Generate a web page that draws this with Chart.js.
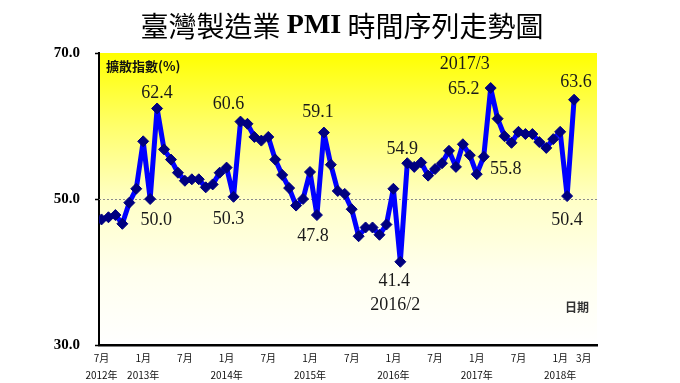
<!DOCTYPE html>
<html>
<head>
<meta charset="utf-8">
<script src="https://cdn.jsdelivr.net/npm/chart.js@4"></script>
<style>
  html, body { margin: 0; padding: 0; background: #fff; }
</style>
</head>
<body>
<canvas id="pmi" width="680" height="383"></canvas>
<script>
// 2012/7 .. 2018/3, monthly
const pmi = [
  47.2, 47.5, 47.8, 46.6, 49.5, 51.4,
  57.9, 50.0, 62.4, 56.8, 55.4, 53.6, 52.5, 52.7, 52.7, 51.6, 52.0, 53.6,
  54.3, 50.3, 60.6, 60.3, 58.5, 58.0, 58.5, 55.4, 53.3, 51.5, 49.1, 50.0,
  53.7, 47.8, 59.1, 54.7, 51.1, 50.7, 48.6, 44.9, 46.1, 46.1, 45.1, 46.5,
  51.4, 41.4, 54.9, 54.4, 55.0, 53.2, 54.1, 54.9, 56.6, 54.4, 57.5, 56.0,
  53.4, 55.8, 65.2, 61.0, 58.6, 57.7, 59.2, 58.9, 58.9, 57.8, 57.0, 58.2,
  59.2, 50.4, 63.6
];
const tickPos   = [0, 6, 12, 18, 24, 30, 36, 42, 48, 54, 60, 66, 69.4];
const tickMonth = ["7月", "1月", "7月", "1月", "7月", "1月", "7月", "1月", "7月", "1月", "7月", "1月", "3月"];
const tickYear  = ["2012年", "2013年", "", "2014年", "", "2015年", "", "2016年", "", "2017年", "", "2018年", ""];
const yTicks = [30, 50, 70];

const noteIdx  = [8, 7, 20, 19, 32, 31, 44, 43, 43, 56, 56, 55, 68, 67];
const noteText = ["62.4", "50.0", "60.6", "50.3", "59.1", "47.8", "54.9", "41.4", "2016/2", "2017/3", "65.2", "55.8", "63.6", "50.4"];
// label offsets from the point, px
const noteOff = [[0,-15],[6,21],[-12,-17],[-5,22],[-6,-20],[-4,21],[-5,-14],[-6,19],[-5,43],[-26,-24],[-27,1],[22,13],[2,-17],[0,24]];

const points = pmi.map((v, i) => ({ x: i, y: v }));

const decor = {
  id: "decor",
  beforeDraw(chart) {
    const { ctx, chartArea: a } = chart;
    const g = ctx.createLinearGradient(0, a.top, 0, a.bottom);
    g.addColorStop(0, "#ffff00");
    g.addColorStop(0.25, "#ffff6a");
    g.addColorStop(0.5, "#ffffc6");
    g.addColorStop(0.75, "#ffffee");
    g.addColorStop(1, "#ffffff");
    ctx.save();
    ctx.fillStyle = g;
    ctx.fillRect(a.left, a.top, a.right - a.left, a.bottom - a.top);
    ctx.restore();
  },
  beforeDatasetsDraw(chart) {
    const { ctx, chartArea: a, scales: { y } } = chart;
    const py = Math.round(y.getPixelForValue(50)) + 0.5;
    ctx.save();
    ctx.strokeStyle = "#8a8a8a";
    ctx.lineWidth = 1;
    ctx.setLineDash([2, 2]);
    ctx.beginPath();
    ctx.moveTo(a.left, py);
    ctx.lineTo(a.right, py);
    ctx.stroke();
    ctx.restore();
  },
  afterDatasetsDraw(chart) {
    const { ctx, scales: { x, y } } = chart;
    ctx.save();
    ctx.fillStyle = "#1a1a1a";
    ctx.font = "18px 'Liberation Serif', 'Times New Roman', serif";
    ctx.textAlign = "center";
    ctx.textBaseline = "middle";
    noteIdx.forEach((i, k) => {
      const px = x.getPixelForValue(i) + noteOff[k][0];
      const py = y.getPixelForValue(pmi[i]) + noteOff[k][1];
      ctx.fillText(noteText[k], px, py);
    });
    ctx.textAlign = "left";
    ctx.font = "bold 13px 'Noto Sans CJK TC', sans-serif";
    ctx.fillStyle = "#111";
    ctx.fillText("擴散指數(%)", 106, 66);
    ctx.fillStyle = "#333";
    ctx.font = "bold 12px 'Noto Sans CJK TC', sans-serif";
    ctx.fillText("日期", 565, 307);
    ctx.restore();
  },
  afterDraw(chart) {
    const { ctx } = chart;
    const parts = [
      ["臺灣製造業 ", "28px 'Noto Sans CJK TC', sans-serif"],
      ["PMI", "bold 28px 'Liberation Serif', serif"],
      [" 時間序列走勢圖", "28px 'Noto Sans CJK TC', sans-serif"]
    ];
    ctx.save();
    ctx.fillStyle = "#000";
    ctx.textBaseline = "middle";
    let total = 0;
    parts.forEach(p => { ctx.font = p[1]; total += ctx.measureText(p[0]).width; });
    let cx = 342 - total / 2;
    parts.forEach(p => {
      ctx.font = p[1];
      ctx.fillText(p[0], cx, 26);
      cx += ctx.measureText(p[0]).width;
    });
    ctx.restore();
  }
};

new Chart(document.getElementById("pmi"), {
  type: "line",
  data: {
    datasets: [{
      data: points,
      borderColor: "#0000ff",
      borderWidth: 5,
      borderJoinStyle: "round",
      borderCapStyle: "round",
      pointStyle: "rectRot",
      pointRadius: 5.5,
      pointBackgroundColor: "#000080",
      pointBorderColor: "#000080",
      pointBorderWidth: 1,
      tension: 0
    }]
  },
  options: {
    responsive: false,
    animation: false,
    layout: { padding: { top: 53, right: 83, left: 0, bottom: 0 } },
    plugins: { legend: { display: false }, tooltip: { enabled: false } },
    scales: {
      x: {
        type: "linear",
        min: -0.36,
        max: 71.3,
        afterFit: s => { s.height = 38; },
        afterBuildTicks: s => { s.ticks = tickPos.map(v => ({ value: v })); },
        grid: { display: false, drawTicks: false },
        border: { display: true, color: "#000", width: 2.5 },
        ticks: {
          autoSkip: false,
          maxRotation: 0,
          padding: 5,
          color: "#111",
          font: { family: "'Noto Sans CJK TC', sans-serif", size: 10, lineHeight: 1.7 },
          callback: v => {
            const k = tickPos.indexOf(v);
            if (k < 0) return "";
            return tickYear[k] ? [tickMonth[k], tickYear[k]] : tickMonth[k];
          }
        }
      },
      y: {
        min: 30,
        max: 70,
        afterFit: s => { s.width = 99; },
        afterBuildTicks: s => { s.ticks = yTicks.map(v => ({ value: v })); },
        grid: { drawOnChartArea: false, drawTicks: true, tickLength: 4, tickColor: "#000", tickWidth: 1.5 },
        border: { display: true, color: "#000", width: 2 },
        ticks: {
          padding: 15,
          color: "#000",
          font: { family: "'Liberation Serif', serif", weight: "bold", size: 15 },
          callback: v => v.toFixed(1)
        }
      }
    }
  },
  plugins: [decor]
});
</script>
</body>
</html>
